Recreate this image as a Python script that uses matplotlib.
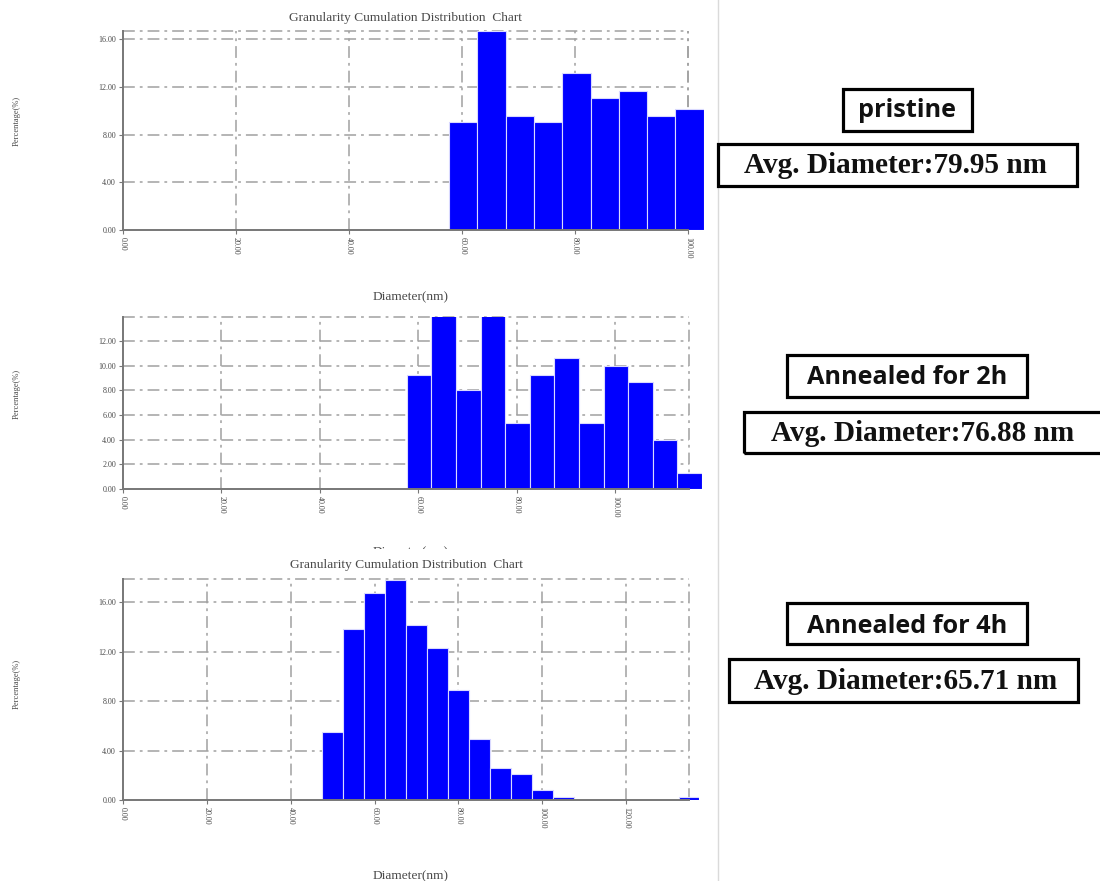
import matplotlib
matplotlib.use('Agg')
import matplotlib.pyplot as plt
from matplotlib.patches import Rectangle
from matplotlib.lines import Line2D

plt.rcParams['lines.scale_dashes'] = False

# ---------------- data ----------------
bin_width = 5.0
p1_left = [57.7, 62.7, 67.7, 72.7, 77.7, 82.7, 87.7, 92.7, 97.7]
p1_pct = [9.08, 16.70, 9.58, 9.08, 13.14, 11.09, 11.62, 9.58, 10.11]

p2_left = [57.7, 62.7, 67.7, 72.7, 77.7, 82.7, 87.7, 92.7, 97.7, 102.7, 107.7, 112.7]
p2_pct = [9.27, 14.13, 8.00, 14.13, 5.32, 9.27, 10.65, 5.32, 9.97, 8.65, 3.97, 1.32]

p3_left = [47.5, 52.5, 57.5, 62.5, 67.5, 72.5, 77.5, 82.5, 87.5, 92.5, 97.5, 102.5,
           107.5, 112.5, 117.5, 122.5, 127.5, 132.5]
p3_pct = [5.51, 13.85, 16.70, 17.80, 14.12, 12.26, 8.93, 4.95, 2.61, 2.10, 0.81, 0.24,
          0.0, 0.0, 0.0, 0.0, 0.0, 0.24]

p1_xticks = [0, 20, 40, 60, 80, 100]
p1_yticks = [0, 4, 8, 12, 16]
p2_xticks = [0, 20, 40, 60, 80, 100]
p2_yticks = [0, 2, 4, 6, 8, 10, 12]
p3_xticks = [0, 20, 40, 60, 80, 100, 120]
p3_yticks = [0, 4, 8, 12, 16]

sample_labels = ["pristine", "Annealed for 2h", "Annealed for 4h"]
avg_diameters = ["79.95", "76.88", "65.71"]
title_text = "Granularity Cumulation Distribution  Chart"
xlabel_text = "Diameter(nm)"
ylabel_text = "Percentage(%)"

# ---------------- figure ----------------
W, H = 1100, 881
fig = plt.figure(figsize=(W / 100, H / 100), dpi=100)
fig.patch.set_facecolor('white')
renderer = fig.canvas.get_renderer()

SERIF = 'Liberation Serif'
TXT = '#4a4a4a'
GRID = '#a0a0a0'
SPINE = '#777777'
DASHDOT = (0, (8.5, 3.6, 2.0, 3.6))


def fit_size(text, target_px, family, weight='normal', base=10):
    t = fig.text(0, 0, text, fontsize=base, family=family, weight=weight)
    w = t.get_window_extent(renderer).width
    t.remove()
    return base * target_px / w


def fit_both(text, target_w, target_cap, family, weight='normal', base=20, wt=0.75):
    fw = fit_size(text, target_w, family, weight, base)
    fh = target_cap / (0.70 * 100 / 72)
    return fw ** wt * fh ** (1 - wt)


fs_title = fit_size(title_text, 233, SERIF)
fs_ylabel = fit_size(ylabel_text, 50, SERIF)
fs_tick = fit_size("16.00", 18, SERIF)


def fx(x):
    return x / W


def fy(y):
    return 1 - y / H


def panel(x0, xb, border_val, xend, ytop, ybot, ymax, left, pct, xticks, yticks,
          title_y, xlabel_y, ylabel_y):
    ppu = (xb - x0) / border_val
    xr = x0 + xend * ppu
    ax = fig.add_axes([fx(x0), fy(ybot), (xr - x0) / W, (ybot - ytop) / H])
    ax.set_facecolor('none')
    ax.set_xlim(0, xend)
    ax.set_ylim(0, ymax)
    for s in ['top', 'right']:
        ax.spines[s].set_visible(False)
    for s in ['left', 'bottom']:
        ax.spines[s].set_color(SPINE)
        ax.spines[s].set_linewidth(1.4)
        ax.spines[s].set_zorder(4)
    ax.spines['bottom'].set_bounds(0, border_val)

    for t in xticks[1:]:
        ax.plot([t, t], [0, ymax], ls=DASHDOT, color=GRID, lw=1.1, zorder=1)
    for t in yticks[1:]:
        ax.plot([0, border_val], [t, t], ls=DASHDOT, color=GRID, lw=1.1, zorder=1)
    ax.plot([border_val, border_val], [0, ymax], ls=DASHDOT, color=GRID, lw=1.1, zorder=1)
    ax.plot([0, border_val], [ymax, ymax], ls=DASHDOT, color=GRID, lw=1.1, zorder=1,
            clip_on=False)

    ax.bar(left, pct, width=bin_width, align='edge', color='#0000ff',
           edgecolor='#d9d9ff', linewidth=0.8, zorder=3)

    ax.set_xticks(xticks)
    ax.set_xticklabels([f"{t:.2f}" for t in xticks], rotation=-90,
                       fontsize=fs_tick, family=SERIF, color=TXT)
    ax.set_yticks(yticks)
    ax.set_yticklabels([f"{t:.2f}" for t in yticks], fontsize=fs_tick,
                       family=SERIF, color=TXT)
    ax.tick_params(axis='both', length=3, width=0.8, color=SPINE, pad=2)

    xc = x0 + (xb - x0) / 2
    if title_y is not None:
        fig.text(fx(xc), fy(title_y), title_text, fontsize=fs_title, family=SERIF,
                 color=TXT, ha='center', va='center')
    fig.text(fx(xc + 5), fy(xlabel_y), xlabel_text, fontsize=fs_title, family=SERIF,
             color=TXT, ha='center', va='center')
    fig.text(fx(17), fy(ylabel_y), ylabel_text, fontsize=fs_ylabel, family=SERIF,
             color=TXT, ha='center', va='center', rotation=90)
    return ax


panel(123, 688.3, 100, 102.7, 31, 229.7, 16.70, p1_left, p1_pct, p1_xticks, p1_yticks,
      title_y=18, xlabel_y=297, ylabel_y=121)
panel(123, 688.8, 115, 117.7, 317.3, 489, 13.92, p2_left, p2_pct, p2_xticks, p2_yticks,
      title_y=None, xlabel_y=552.5, ylabel_y=394)
panel(123, 689, 135, 137.5, 579.3, 800.3, 17.84, p3_left, p3_pct, p3_xticks, p3_yticks,
      title_y=565, xlabel_y=876, ylabel_y=684)

# the middle chart's x label is almost entirely cut off in the source image
fig.add_artist(Rectangle((fx(300), fy(558.5)), 220 / W, 9.5 / H, transform=fig.transFigure,
                         facecolor='white', edgecolor='none', zorder=10))

# separator line
fig.add_artist(Line2D([fx(718), fx(718)], [0, 1], transform=fig.transFigure,
                      color='#dadada', lw=1.0))

# ---------------- annotation boxes ----------------
fs_lab = fit_both("Annealed for 2h", 208, 16.0, 'Open Sans', 'bold')
fs_avg = fit_both("Avg. Diameter:79.95 nm", 326, 16.7, SERIF, 'bold')

label_boxes = [(843, 89, 972, 131), (787, 355, 1027, 397), (787, 603, 1027, 644)]
label_anchor = [(907, 116.7), (907, 384.3), (907, 632.7)]
avg_boxes = [(718, 144.5, 1077, 185.5), (744, 412, 1103, 453), (729, 659, 1078, 702)]
avg_anchor = [(895, 173.3), (923, 441.0), (906, 689.0)]


def draw_box(b):
    x1, y1, x2, y2 = b
    fig.add_artist(Rectangle((fx(x1), fy(y2)), (x2 - x1) / W, (y2 - y1) / H,
                             transform=fig.transFigure, fill=False,
                             edgecolor='black', linewidth=2.3, zorder=6))


for lab, b, c in zip(sample_labels, label_boxes, label_anchor):
    draw_box(b)
    fig.text(fx(c[0]), fy(c[1]), lab, fontsize=fs_lab, family='Open Sans',
             weight='bold', color='#111111', ha='center', va='baseline')

for d, b, c in zip(avg_diameters, avg_boxes, avg_anchor):
    draw_box(b)
    fig.text(fx(c[0]), fy(c[1]), f"Avg. Diameter:{d} nm", fontsize=fs_avg,
             family=SERIF, weight='bold', color='#111111',
             ha='center', va='baseline')

fig.savefig('out.png', dpi=100, facecolor='white')
